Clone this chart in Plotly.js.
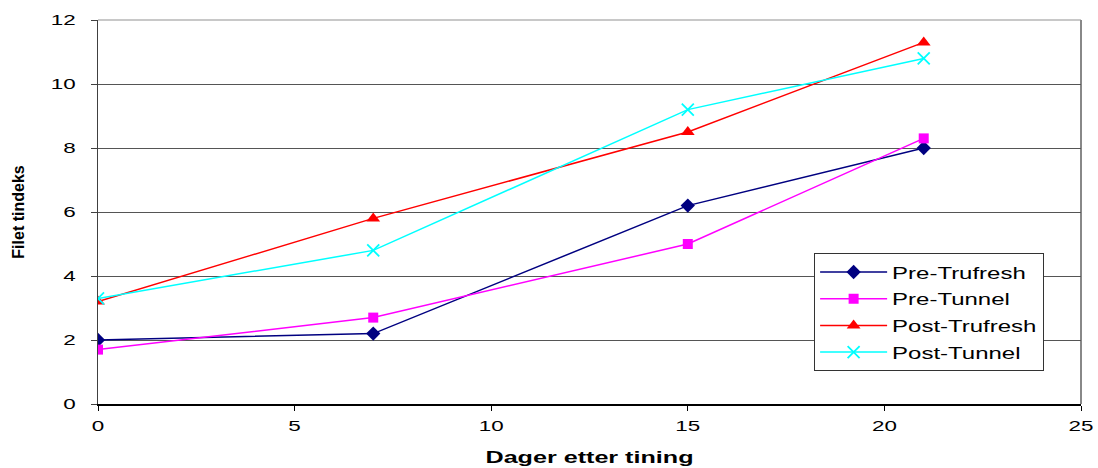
<!DOCTYPE html>
<html>
<head>
<meta charset="utf-8">
<script src="https://cdn.plot.ly/plotly-3.0.1.min.js"></script>
<style>
  html, body { margin: 0; padding: 0; background: #fff; }
  #chart { width: 1098px; height: 468px; }
</style>
</head>
<body>
<div id="chart"></div>
<script>
// Days after thawing and fillet index per treatment
const days = [0, 7, 15, 21];
const preTrufresh = [2.0, 2.2, 6.2, 8.0];
const preTunnel = [1.7, 2.7, 5.0, 8.3];
const postTrufresh = [3.2, 5.8, 8.5, 11.3];
const postTunnel = [3.3, 4.8, 9.2, 10.8];
const seriesNames = ['Pre-Trufresh', 'Pre-Tunnel', 'Post-Trufresh', 'Post-Tunnel'];

const FONT = 'Liberation Sans, Arial, sans-serif';

function series(i, y, color, marker) {
  return {
    x: days, y: y, name: seriesNames[i], legendgroup: 'g' + i,
    type: 'scatter', mode: 'lines+markers',
    line: { color: color, width: 1.5 },
    marker: Object.assign({ color: color }, marker)
  };
}

const traces = [
  series(0, preTrufresh, '#000080', { symbol: 'diamond', size: 11 }),
  series(1, preTunnel, '#ff00ff', { symbol: 'square', size: 10 }),
  series(2, postTrufresh, '#ff0000', { symbol: 'triangle-up', size: 12 }),
  series(3, postTunnel, '#00ffff', { symbol: 'x-thin-open', size: 12, line: { color: '#00ffff', width: 1.8 } })
];

const layout = {
  width: 1098, height: 468,
  margin: { l: 98, r: 17, t: 20, b: 64 },
  paper_bgcolor: '#ffffff',
  plot_bgcolor: '#ffffff',
  font: { family: FONT, size: 14, color: '#000' },
  showlegend: true,
  legend: {
    x: 0.7285, y: 0.392, xanchor: 'left', yanchor: 'top',
    bgcolor: '#ffffff', bordercolor: '#333333', borderwidth: 1,
    font: { family: FONT, size: 17, color: '#000' },
    traceorder: 'grouped', tracegroupgap: 1.6, itemwidth: 67
  },
  xaxis: {
    range: [0, 25], dtick: 5, tick0: 0,
    showgrid: false, zeroline: false,
    showline: true, linecolor: '#000000', linewidth: 1.5,
    ticks: 'outside', ticklen: 5, tickcolor: '#000', tickwidth: 1,
    ticklabelstandoff: 4,
    tickfont: { family: FONT, size: 14 },
    title: { text: '<b>Dager etter tining</b>', font: { family: FONT, size: 16 }, standoff: 18 }
  },
  yaxis: {
    range: [0, 12], dtick: 2, tick0: 0,
    showgrid: true, gridcolor: '#555555', gridwidth: 1,
    zeroline: false,
    showline: true, linecolor: '#404040', linewidth: 1.5,
    ticks: 'outside', ticklen: 6, tickcolor: '#404040', tickwidth: 1,
    ticklabelstandoff: 12,
    tickfont: { family: FONT, size: 14 },
    title: { text: '<b>Filet tindeks</b>', font: { family: FONT, size: 16 }, standoff: 31 }
  },
  shapes: [
    { type: 'line', xref: 'paper', yref: 'paper', x0: 0, x1: 1, y0: 1, y1: 1,
      line: { color: '#c8c8c8', width: 2 }, layer: 'below' },
    { type: 'line', xref: 'paper', yref: 'paper', x0: 1, x1: 1, y0: 0, y1: 1,
      line: { color: '#888888', width: 2 }, layer: 'below' }
  ]
};

// The lettering is drawn wide: stretch each label's glyphs horizontally.
function widen(selector, factor) {
  document.querySelectorAll(selector).forEach(function (t) {
    const w = t.getComputedTextLength();
    t.setAttribute('textLength', (w * factor).toFixed(1));
    t.setAttribute('lengthAdjust', 'spacingAndGlyphs');
  });
}

Plotly.newPlot('chart', traces, layout, { displayModeBar: false, staticPlot: true }).then(function () {
  widen('#chart .xtick text', 1.6);
  widen('#chart .ytick text', 1.6);
  widen('#chart .g-xtitle text', 1.57);
  widen('#chart .legendtext', 1.41);

  // give the legend box room for the wider entries
  const boxWidth = 229;
  const bg = document.querySelector('#chart .legend rect.bg');
  if (bg) bg.setAttribute('width', boxWidth);
  document.querySelectorAll('#chart clipPath[id^="legend"] rect').forEach(function (r) {
    r.setAttribute('width', boxWidth);
  });
});
</script>
</body>
</html>
